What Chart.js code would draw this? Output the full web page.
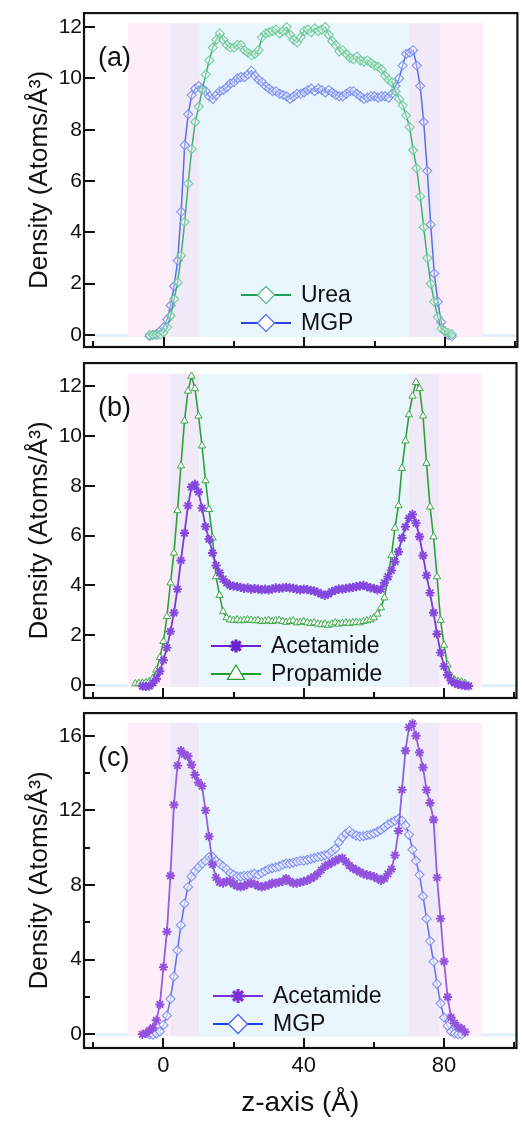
<!DOCTYPE html>
<html>
<head>
<meta charset="utf-8">
<script src="https://cdn.jsdelivr.net/npm/chart.js@4.4.1/dist/chart.umd.min.js"></script>
<style>
  html, body { margin: 0; padding: 0; background: #fff; }
  #wrap { position: relative; width: 523px; height: 1124px; overflow: hidden; }
  .panel { position: absolute; left: 0; width: 523px; }
</style>
</head>
<body>
<div id="wrap">
  <div class="panel" style="top:-1px"><canvas id="chartA" width="523" height="370"></canvas></div>
  <div class="panel" style="top:349px"><canvas id="chartB" width="523" height="372"></canvas></div>
  <div class="panel" style="top:699px"><canvas id="chartC" width="523" height="425"></canvas></div>
</div>
<script>
// ---- data (z in Angstrom, density in atoms/A^3) ----

// panel (a)
const zA = [-4,-3,-2,-1,0,1,2,3,4,5,
  6,7,8,9,10,11,12,13,14,15,
  16,17,18,19,20,21,22,23,24,25,
  26,27,28,29,30,31,32,33,34,35,
  36,37,38,39,40,41,42,43,44,45,
  46,47,48,49,50,51,52,53,54,55,
  56,57,58,59,60,61,62,63,64,65,
  66,67,68,69,70,71,72,73,74,75,
  76,77,78,79,80,81,82];
const ureaA = [0.0,0.0,0.0,0.02,0.1,0.3,0.75,1.4,2.05,3.1,
  4.4,5.9,7.25,8.3,8.9,9.55,10.15,10.7,11.2,11.5,
  11.75,11.5,11.3,11.2,11.2,11.3,11.3,11.1,11.0,10.9,
  10.95,11.1,11.6,11.75,11.8,11.85,11.9,11.75,11.85,12.0,
  11.7,11.5,11.4,11.6,11.85,11.9,11.8,11.95,11.85,11.9,
  12.0,11.7,11.45,11.3,11.05,11.1,10.95,10.8,10.75,10.85,
  10.7,10.65,10.7,10.6,10.5,10.45,10.35,10.1,9.95,9.85,
  9.5,9.2,8.95,8.55,8.1,7.2,6.5,5.4,4.2,3.0,
  2.0,1.3,0.7,0.25,0.15,0.08,0.03];
const mgpA = [-0.05,0.0,0.05,0.15,0.3,0.6,1.15,1.9,2.9,4.8,
  7.4,8.6,9.35,9.6,9.7,9.6,9.5,9.3,9.2,9.35,
  9.5,9.55,9.65,9.8,9.85,10.0,10.05,10.05,10.15,10.3,
  10.1,9.95,9.85,9.7,9.6,9.5,9.5,9.4,9.35,9.3,
  9.2,9.3,9.4,9.4,9.45,9.55,9.6,9.5,9.6,9.55,
  9.45,9.55,9.45,9.35,9.3,9.3,9.4,9.5,9.5,9.4,
  9.3,9.2,9.25,9.3,9.3,9.25,9.3,9.3,9.25,9.4,
  9.7,10.0,10.5,10.95,11.0,11.1,10.5,9.7,8.3,6.4,
  4.3,2.4,1.3,0.5,0.15,0.0,-0.05];

// panel (b)
const zB = [-8,-7,-6,-5,-4,-3,-2,-1,0,1,
  2,3,4,5,6,7,8,9,10,11,
  12,13,14,15,16,17,18,19,20,21,
  22,23,24,25,26,27,28,29,30,31,
  32,33,34,35,36,37,38,39,40,41,
  42,43,44,45,46,47,48,49,50,51,
  52,53,54,55,56,57,58,59,60,61,
  62,63,64,65,66,67,68,69,70,71,
  72,73,74,75,76,77,78,79,80,81,
  82,83,84,85,86,87];
const acetB = [null,null,-0.05,-0.06,-0.04,0.08,0.25,0.55,1.0,1.5,
  2.15,2.9,3.85,5.0,6.1,7.2,7.95,8.05,7.75,7.1,
  6.36,5.85,5.3,4.8,4.5,4.25,4.1,4.0,3.97,3.95,
  3.92,3.88,3.9,3.85,3.87,3.85,3.82,3.85,3.82,3.85,
  3.9,3.88,3.9,3.92,3.9,3.88,3.85,3.82,3.85,3.83,
  3.8,3.78,3.72,3.65,3.6,3.65,3.75,3.8,3.85,3.85,
  3.88,3.9,3.92,3.95,3.98,4.0,3.95,3.9,3.88,3.82,
  3.85,4.1,4.35,4.6,4.95,5.35,5.9,6.35,6.7,6.85,
  6.5,5.95,5.2,4.4,3.7,2.9,2.05,1.3,0.75,0.4,
  0.18,0.08,0.02,0.0,-0.03,-0.04];
const propB = [0.05,0.07,0.08,0.1,0.15,0.27,0.6,1.1,1.75,2.75,
  4.1,5.3,7.0,8.8,10.6,11.8,12.4,11.9,10.8,9.6,
  8.2,7.05,5.9,4.35,3.6,2.95,2.7,2.62,2.6,2.62,
  2.58,2.6,2.62,2.6,2.58,2.6,2.55,2.57,2.6,2.55,
  2.58,2.6,2.55,2.52,2.55,2.58,2.5,2.52,2.55,2.5,
  2.47,2.5,2.45,2.42,2.45,2.4,2.45,2.5,2.45,2.48,
  2.5,2.48,2.5,2.52,2.5,2.55,2.58,2.62,2.7,2.85,
  3.1,3.5,4.3,5.2,6.3,7.2,8.7,9.8,10.85,11.6,
  12.15,11.9,10.8,8.9,7.15,5.95,4.35,2.6,1.6,0.8,
  0.35,0.2,0.15,0.12,0.07,null];

// panel (c)
const zC = [-6,-5,-4,-3,-2,-1,0,1,2,3,
  4,5,6,7,8,9,10,11,12,13,
  14,15,16,17,18,19,20,21,22,23,
  24,25,26,27,28,29,30,31,32,33,
  34,35,36,37,38,39,40,41,42,43,
  44,45,46,47,48,49,50,51,52,53,
  54,55,56,57,58,59,60,61,62,63,
  64,65,66,67,68,69,70,71,72,73,
  74,75,76,77,78,79,80,81,82,83,
  84,85,86];
const acetC = [0.0,0.05,0.2,0.35,0.75,1.6,3.6,5.5,8.5,12.3,
  14.4,15.2,15.0,14.9,14.45,13.9,13.5,13.3,12.0,10.6,
  9.1,8.4,8.15,8.1,8.2,8.2,8.05,7.95,7.9,7.95,
  8.05,8.1,8.05,7.95,7.9,7.95,8.0,8.1,8.1,8.15,
  8.2,8.35,8.2,8.1,8.1,8.15,8.2,8.25,8.35,8.45,
  8.6,8.8,9.0,9.1,9.2,9.3,9.4,9.45,9.25,9.05,
  8.9,8.8,8.7,8.6,8.55,8.5,8.45,8.35,8.25,8.35,
  8.6,8.85,9.6,10.9,13.1,15.2,16.45,16.65,16.0,15.1,
  14.3,13.1,12.4,11.5,8.4,6.2,3.9,2.0,0.9,0.6,
  0.4,0.3,0.12];
const mgpC = [null,null,0.0,-0.02,0.05,0.15,0.5,1.0,1.9,3.1,
  4.5,5.85,7.0,7.9,8.45,8.75,8.95,9.15,9.3,9.5,
  9.5,9.3,9.15,9.0,8.85,8.65,8.55,8.45,8.45,8.5,
  8.5,8.55,8.6,8.55,8.65,8.75,8.85,8.9,8.95,9.0,
  9.1,9.15,9.15,9.2,9.25,9.3,9.3,9.35,9.4,9.45,
  9.5,9.55,9.6,9.65,9.8,9.95,10.3,10.55,10.75,10.9,
  10.75,10.65,10.6,10.62,10.67,10.7,10.77,10.85,10.95,11.1,
  11.25,11.35,11.45,11.55,11.45,11.2,10.7,9.9,9.3,8.55,
  7.4,6.2,5.0,3.9,2.7,1.65,0.9,0.45,0.15,0.05,
  0.0,0.0,null];

// ticks
const xTicks = [-20, 0, 20, 40, 60, 80, 100];
const xMajor = [0, 40, 80];
const yTicksA = [0, 2, 4, 6, 8, 10, 12];
const yTicksB = [0, 2, 4, 6, 8, 10, 12];
const yTicksC = [0, 4, 8, 12, 16];
const yMinorC = [2, 6, 10, 14];

// shaded regions along z (pink / overlap / bulk / overlap / pink)
const bandEdges = [-10.2, 2, 10.3, 69.9, 78.7, 90.8];
const bandColors = ['#fdeef9', '#f0e9f8', '#eaf6fd', '#f0e9f8', '#fdeef9'];

const FONT = "'Liberation Sans', Arial, Helvetica, sans-serif";
Chart.defaults.font.family = FONT;
Chart.defaults.color = '#111';

function drawMarker(ctx, m, cx, cy) {
  ctx.save();
  ctx.fillStyle = m.fill || '#fff';
  ctx.strokeStyle = m.stroke;
  ctx.lineWidth = m.lw;
  ctx.beginPath();
  const r = m.r;
  if (m.style === 'rectRot') {
    ctx.moveTo(cx, cy - r); ctx.lineTo(cx + r, cy); ctx.lineTo(cx, cy + r); ctx.lineTo(cx - r, cy);
    ctx.closePath(); ctx.fill(); ctx.stroke();
  } else if (m.style === 'triangle') {
    ctx.moveTo(cx, cy - r); ctx.lineTo(cx + r * 0.95, cy + r * 0.6); ctx.lineTo(cx - r * 0.95, cy + r * 0.6);
    ctx.closePath(); ctx.fill(); ctx.stroke();
  } else {
    for (let k = 0; k < 4; k++) {
      const a = k * Math.PI / 4;
      ctx.moveTo(cx - r * Math.sin(a), cy - r * Math.cos(a));
      ctx.lineTo(cx + r * Math.sin(a), cy + r * Math.cos(a));
    }
    ctx.stroke();
  }
  ctx.restore();
}

const deco = {
  id: 'deco',
  beforeDatasetsDraw(chart, args, o) {
    const {ctx, scales: {x, y}} = chart;
    ctx.save();
    // faint zero line
    const x0 = x.getPixelForValue(-19.5), x1 = x.getPixelForValue(100.4);
    ctx.fillStyle = '#e2f0f9';
    ctx.fillRect(x0, y.getPixelForValue(0) - 1, x1 - x0, 3);
    const top = y.getPixelForValue(o.shadeTop), bot = y.getPixelForValue(0) + 2;
    for (let i = 0; i < bandColors.length; i++) {
      const a = x.getPixelForValue(bandEdges[i]), b = x.getPixelForValue(bandEdges[i + 1]);
      ctx.fillStyle = bandColors[i];
      ctx.fillRect(a, top, b - a, bot - top);
    }
    ctx.restore();
  },
  afterDraw(chart, args, o) {
    const {ctx, chartArea: a, scales: {x, y}} = chart;
    ctx.save();
    // inward ticks
    ctx.strokeStyle = '#111';
    ctx.lineWidth = 2;
    ctx.beginPath();
    xTicks.forEach(v => {
      const px = Math.round(x.getPixelForValue(v));
      ctx.moveTo(px, a.bottom);
      ctx.lineTo(px, a.bottom - (xMajor.includes(v) ? 10 : 6));
    });
    o.yMajor.forEach(v => {
      const py = Math.round(y.getPixelForValue(v));
      ctx.moveTo(a.left, py); ctx.lineTo(a.left + 11, py);
    });
    (o.yMinor || []).forEach(v => {
      const py = Math.round(y.getPixelForValue(v));
      ctx.moveTo(a.left, py); ctx.lineTo(a.left + 6, py);
    });
    ctx.stroke();
    // frame
    ctx.lineWidth = 2.2;
    ctx.strokeRect(a.left, a.top, a.right - a.left, a.bottom - a.top);

    // panel letter
    ctx.fillStyle = '#111';
    ctx.font = '27px ' + FONT;
    ctx.textBaseline = 'middle';
    ctx.textAlign = 'left';
    ctx.fillText(o.letter, 98, a.top + 45);

    // legend
    ctx.font = '23px ' + FONT;
    o.legend.forEach((m, i) => {
      const ly = a.bottom - (i === 0 ? 52 : 24);
      ctx.strokeStyle = m.line;
      ctx.lineWidth = 2.2;
      ctx.beginPath();
      ctx.moveTo(o.legendX, ly); ctx.lineTo(o.legendX + 50, ly);
      ctx.stroke();
      drawMarker(ctx, m, o.legendX + 25, ly);
      ctx.fillStyle = '#111';
      ctx.fillText(chart.data.datasets[i].label, o.legendX + 60, ly + 1);
    });
    ctx.restore();
  }
};

function series(label, zs, vals, style) {
  return Object.assign({
    label: label,
    data: zs.map((z, i) => ({ x: z, y: vals[i] })),
    tension: 0,
    spanGaps: false
  }, style);
}

function panel(id, datasets, yMin, yMax, yTicks, o) {
  return new Chart(document.getElementById(id), {
    type: 'line',
    data: { datasets: datasets },
    options: {
      responsive: false,
      animation: false,
      layout: { padding: { top: 14, right: 4, left: 0, bottom: 0 } },
      plugins: { legend: { display: false }, tooltip: { enabled: false }, deco: o },
      scales: {
        x: {
          type: 'linear', min: -22.64, max: 100.65,
          grid: { display: false, drawTicks: false },
          border: { display: false },
          afterBuildTicks: s => { s.ticks = (o.xLabels ? xMajor : xTicks).map(v => ({ value: v })); },
          ticks: { display: !!o.xLabels, padding: 5, color: '#111', font: { size: 22 } },
          title: { display: !!o.xLabels, text: 'z-axis (Å)', color: '#111', font: { size: 28 }, padding: { top: 0, bottom: 4 } },
          afterFit: s => { s.height = o.xHeight; }
        },
        y: {
          min: yMin, max: yMax,
          grid: { display: false, drawTicks: false },
          border: { display: false },
          afterBuildTicks: s => { s.ticks = yTicks.map(v => ({ value: v })); },
          ticks: { padding: 2, color: '#111', font: { size: 21, lineHeight: 1.15 } },
          title: { display: true, text: 'Density (Atoms/Å³)', color: '#111', font: { size: 26 }, padding: { top: 24, bottom: 0 } },
          afterFit: s => { s.width = 84; }
        }
      }
    },
    plugins: [deco]
  });
}

// (a) Urea / MGP
panel('chartA', [
  series('Urea', zA, ureaA, {
    borderColor: 'rgba(45,170,100,0.9)', borderWidth: 1.5,
    pointStyle: 'rectRot', pointRadius: 4.5, pointBorderWidth: 1.1,
    pointBorderColor: 'rgba(105,202,150,0.95)', pointBackgroundColor: 'rgba(255,255,255,0.35)'
  }),
  series('MGP', zA, mgpA, {
    borderColor: 'rgba(75,95,232,0.9)', borderWidth: 1.5,
    pointStyle: 'rectRot', pointRadius: 4.5, pointBorderWidth: 1.1,
    pointBorderColor: 'rgba(122,140,242,0.95)', pointBackgroundColor: 'rgba(255,255,255,0.35)'
  })
], -0.4675, 12.545, yTicksA, {
  letter: '(a)', shadeTop: 12.15, yMajor: yTicksA, xHeight: 22, legendX: 241,
  legend: [
    { line: '#1f9e5a', style: 'rectRot', stroke: '#5cbf8a', fill: '#fff', r: 8.5, lw: 1.3 },
    { line: '#2a40e0', style: 'rectRot', stroke: '#5f74ee', fill: '#fff', r: 8.5, lw: 1.3 }
  ]
});

// (b) Acetamide / Propamide
panel('chartB', [
  series('Acetamide', zB, acetB, {
    borderColor: 'rgb(122,58,214)', borderWidth: 1.8,
    pointStyle: 'star', pointRadius: 4.6, pointBorderWidth: 1.9,
    pointBorderColor: 'rgb(132,72,222)', pointBackgroundColor: 'rgb(132,72,222)'
  }),
  series('Propamide', zB, propB, {
    borderColor: 'rgb(45,160,55)', borderWidth: 1.6,
    pointStyle: 'triangle', pointRadius: 4.2, pointBorderWidth: 1,
    pointBorderColor: 'rgb(62,170,72)', pointBackgroundColor: '#fff'
  })
], -0.522, 12.923, yTicksB, {
  letter: '(b)', shadeTop: 12.5, yMajor: yTicksB, xHeight: 23, legendX: 211,
  legend: [
    { line: '#6a22d0', style: 'star', stroke: '#6a22d0', r: 6.5, lw: 3.2 },
    { line: '#1f9a2a', style: 'triangle', stroke: '#2aa035', fill: '#fff', r: 9, lw: 1.3 }
  ]
});

// (c) Acetamide / MGP
panel('chartC', [
  series('Acetamide', zC, acetC, {
    borderColor: 'rgb(152,92,224)', borderWidth: 1.8,
    pointStyle: 'star', pointRadius: 4.6, pointBorderWidth: 1.9,
    pointBorderColor: 'rgb(146,82,222)', pointBackgroundColor: 'rgb(146,82,222)'
  }),
  series('MGP', zC, mgpC, {
    borderColor: 'rgba(80,100,238,0.9)', borderWidth: 1.5,
    pointStyle: 'rectRot', pointRadius: 4.5, pointBorderWidth: 1.1,
    pointBorderColor: 'rgba(122,140,245,0.95)', pointBackgroundColor: 'rgba(255,255,255,0.6)'
  })
], -0.734, 17.217, yTicksC, {
  letter: '(c)', shadeTop: 16.7, yMajor: yTicksC, yMinor: yMinorC, xHeight: 76, xLabels: true, legendX: 213,
  legend: [
    { line: '#7a30d8', style: 'star', stroke: '#7a30d8', r: 7, lw: 3.2 },
    { line: '#2040f0', style: 'rectRot', stroke: '#4a5ff2', fill: '#fff', r: 9.5, lw: 1.3 }
  ]
});
</script>
</body>
</html>
